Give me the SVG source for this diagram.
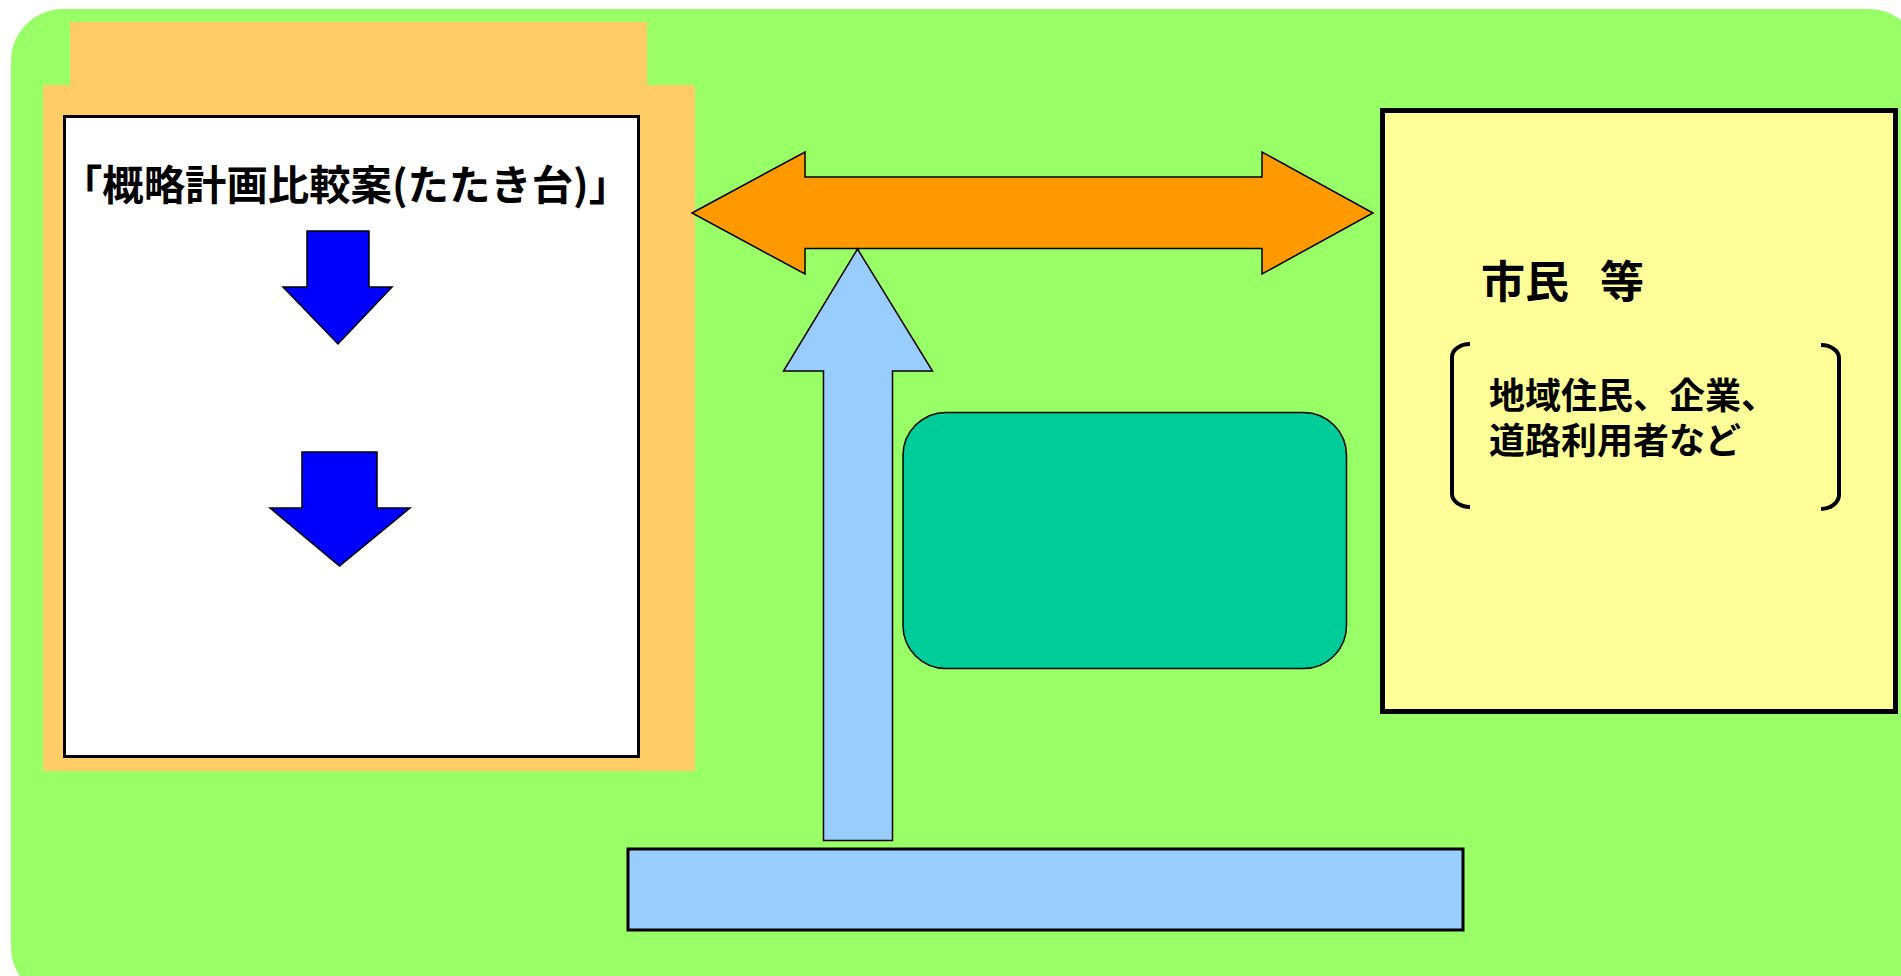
<svg xmlns="http://www.w3.org/2000/svg" width="1901" height="976" viewBox="0 0 1901 976">
<style>
.thin{stroke:#000;stroke-width:1.5;stroke-linejoin:miter}
.jp{font-family:"Noto Sans CJK JP","Noto Sans CJK SC",sans-serif;font-weight:bold;fill:#000}
</style>
<rect width="1901" height="976" fill="#ffffff"/>
<g id="background">
<rect x="11" y="9" width="1910" height="990" rx="52" ry="52" fill="#99FF66"/>
</g>
<g id="plan-panel">
<rect x="70" y="22" width="577" height="64" fill="#FFCC66"/>
<rect x="43" y="85" width="652" height="686" fill="#FFCC66"/>
<rect x="64.5" y="116.5" width="574" height="640" fill="#FFFFFF" stroke="#000" stroke-width="3"/>
<text class="jp" x="61" y="200" font-size="41" textLength="569" lengthAdjust="spacingAndGlyphs">「概略計画比較案(たたき台)」</text>
<polygon class="thin" fill="#0000FF" points="307,231 369,231 369,287 392,287 338,344 283,287 307,287"/>
<polygon class="thin" fill="#0000FF" points="302,452 377,452 377,508 410,508 339.5,566 270,508 302,508"/>
</g>
<g id="citizens">
<rect x="1382.5" y="110.5" width="513" height="601" fill="#FFFF99" stroke="#000" stroke-width="5"/>
<text class="jp" x="1481" y="298" font-size="44" style="word-spacing:21px">市民 等</text>
<path d="M1470,344 C1460,344 1452,350 1452,357 L1452,494 C1452,501 1460,507 1470,507" fill="none" stroke="#000" stroke-width="4"/>
<path d="M1821,345 C1831,345 1839,351 1839,358 L1839,495 C1839,502 1831,509 1821,509" fill="none" stroke="#000" stroke-width="4"/>
<text class="jp" font-size="36"><tspan x="1489" y="409">地域住民、企業、</tspan><tspan x="1489" y="454">道路利用者など</tspan></text>
</g>
<g id="teal-box">
<rect x="903" y="412.5" width="443.5" height="256" rx="43" ry="43" fill="#00CC99" stroke="#000" stroke-width="1.5"/>
</g>
<g id="bottom-box">
<rect x="628" y="849" width="835" height="81" fill="#99CCFF" stroke="#000" stroke-width="3"/>
</g>
<g id="connectors">
<polygon class="thin" fill="#FF9900" points="692,213 805,152 805,177 1262,177 1262,152 1373,213 1262,274 1262,248.5 805,248.5 805,274"/>
<polygon class="thin" fill="#99CCFF" points="857.5,249 932.5,371 892.5,371 892.5,840.5 823.5,840.5 823.5,371 783.5,371"/>
</g>
</svg>
